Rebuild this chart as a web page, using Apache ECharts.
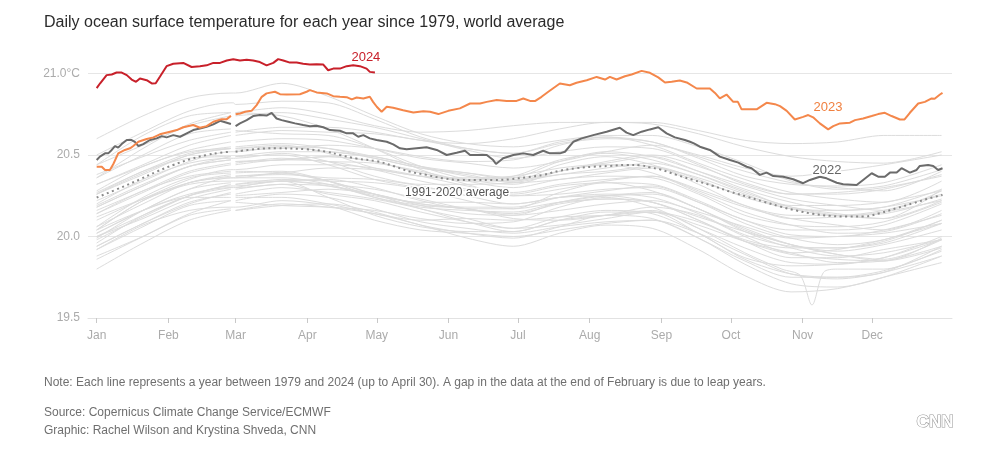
<!DOCTYPE html>
<html>
<head>
<meta charset="utf-8">
<script src="https://cdn.jsdelivr.net/npm/echarts@6/dist/echarts.min.js"></script>
<style>
html,body{margin:0;padding:0;background:#fff;}
#chart{width:1003px;height:466px;}
</style>
</head>
<body>
<div id="chart"></div>
<script>
// ---------------- DATA ----------------
const MONTH_DAYS = [0, 31, 60, 91, 121, 152, 182, 213, 244, 274, 305, 335];
const MONTH_LABELS = ['Jan','Feb','Mar','Apr','May','Jun','Jul','Aug','Sep','Oct','Nov','Dec'];

// day-of-year sample positions for the background years (59 = Feb 29)
const grayDays = [0,20,40,58,59,60,80,100,120,140,160,180,200,220,240,260,280,300,320,340,365];

const y1979 = [19.94,20.08,20.20,20.27,null,20.26,20.30,20.27,20.23,20.17,20.09,20.03,20.10,20.15,20.15,20.02,19.87,19.82,19.83,19.87,20.00];
const y1980 = [19.99,20.16,20.29,20.36,20.36,20.36,20.36,20.32,20.24,20.19,20.17,20.11,20.10,20.13,20.18,20.13,20.00,19.90,19.92,19.98,20.08];
const y1981 = [20.04,20.16,20.24,20.24,null,20.24,20.24,20.20,20.14,20.10,20.11,20.10,20.12,20.13,20.15,20.07,19.97,19.90,19.84,19.85,19.94];
const days1982 = [0,20,40,58,59,60,80,100,120,140,160,180,200,220,240,260,280,296,304,309,314,320,340,365];
const y1982 = [19.92,20.06,20.19,20.22,null,20.21,20.19,20.18,20.16,20.11,20.08,20.09,20.18,20.24,20.18,20.05,19.90,19.80,19.76,19.58,19.78,19.80,19.80,19.92];
const y1983 = [20.14,20.28,20.37,20.40,null,20.40,20.39,20.34,20.26,20.17,20.11,20.05,20.07,20.11,20.15,20.09,19.97,19.87,19.87,19.92,19.98];
const y1984 = [19.92,20.07,20.16,20.18,20.18,20.18,20.22,20.19,20.10,20.04,20.02,20.00,20.04,20.08,20.10,19.99,19.83,19.71,19.69,19.75,19.88];
const y1985 = [19.80,19.96,20.10,20.16,null,20.16,20.20,20.18,20.14,20.07,19.99,19.94,20.02,20.07,20.05,19.92,19.76,19.66,19.68,19.75,19.84];
const y1986 = [19.88,20.00,20.13,20.17,null,20.16,20.19,20.20,20.15,20.07,20.02,19.99,20.06,20.13,20.11,19.99,19.85,19.75,19.75,19.78,19.94];
const y1987 = [19.96,20.13,20.25,20.30,null,20.30,20.34,20.31,20.25,20.21,20.21,20.20,20.24,20.25,20.26,20.17,20.03,19.93,19.88,19.90,19.98];
const y1988 = [20.02,20.16,20.26,20.30,20.30,20.30,20.32,20.26,20.22,20.15,20.09,20.05,20.12,20.16,20.14,20.02,19.86,19.77,19.75,19.79,19.91];
const y1989 = [19.86,20.00,20.14,20.22,null,20.22,20.26,20.24,20.17,20.09,20.05,20.02,20.06,20.09,20.10,20.02,19.89,19.77,19.74,19.78,19.88];
const y1990 = [20.02,20.16,20.29,20.33,null,20.32,20.34,20.35,20.30,20.22,20.17,20.17,20.27,20.33,20.28,20.17,20.05,19.95,19.89,19.86,19.98];
const y1991 = [19.98,20.12,20.25,20.32,null,20.32,20.35,20.34,20.33,20.29,20.22,20.17,20.21,20.23,20.21,20.10,19.97,19.89,19.86,19.85,19.93];
const y1992 = [20.04,20.22,20.32,20.34,20.34,20.34,20.34,20.24,20.13,20.06,20.03,20.03,20.10,20.13,20.16,20.05,19.93,19.84,19.83,19.87,19.98];
const y1993 = [19.94,20.08,20.21,20.26,null,20.25,20.27,20.29,20.26,20.19,20.14,20.13,20.21,20.25,20.21,20.12,20.03,19.95,19.89,19.85,19.99];
const y1994 = [20.00,20.11,20.23,20.29,null,20.29,20.32,20.31,20.26,20.20,20.17,20.13,20.16,20.20,20.22,20.15,20.06,19.99,20.00,20.02,20.08];
const y1995 = [20.06,20.24,20.36,20.39,null,20.39,20.40,20.34,20.24,20.18,20.16,20.15,20.21,20.25,20.27,20.17,20.04,19.95,19.91,19.95,20.04];
const y1996 = [20.00,20.13,20.25,20.31,20.31,20.31,20.34,20.32,20.29,20.23,20.17,20.14,20.20,20.23,20.21,20.10,19.98,19.93,19.93,19.97,20.10];
const y1997 = [20.06,20.20,20.33,20.38,null,20.37,20.39,20.42,20.41,20.37,20.35,20.37,20.47,20.51,20.47,20.38,20.27,20.18,20.13,20.11,20.29];
const y1998 = [20.36,20.54,20.69,20.76,null,20.76,20.74,20.66,20.54,20.41,20.32,20.25,20.26,20.29,20.30,20.21,20.10,20.01,20.00,20.04,20.13];
const y1999 = [20.12,20.23,20.33,20.37,null,20.37,20.38,20.36,20.35,20.31,20.25,20.20,20.24,20.26,20.24,20.14,20.01,19.94,19.93,19.96,20.08];
const y2000 = [20.04,20.22,20.33,20.36,20.36,20.36,20.39,20.34,20.26,20.20,20.18,20.18,20.24,20.28,20.31,20.21,20.08,19.99,19.95,19.98,20.10];
const y2001 = [20.14,20.27,20.39,20.44,null,20.44,20.47,20.46,20.41,20.34,20.29,20.25,20.29,20.34,20.37,20.29,20.19,20.11,20.12,20.15,20.22];
const y2002 = [20.19,20.32,20.43,20.47,null,20.46,20.47,20.49,20.46,20.39,20.34,20.34,20.44,20.49,20.44,20.34,20.25,20.18,20.14,20.11,20.22];
const y2003 = [20.26,20.39,20.50,20.54,null,20.54,20.55,20.52,20.49,20.43,20.37,20.34,20.40,20.44,20.43,20.32,20.19,20.13,20.13,20.16,20.26];
const y2004 = [20.20,20.35,20.45,20.48,20.48,20.48,20.51,20.46,20.37,20.32,20.32,20.33,20.38,20.40,20.43,20.35,20.24,20.17,20.13,20.14,20.23];
const y2005 = [20.27,20.40,20.51,20.55,null,20.55,20.57,20.54,20.48,20.42,20.38,20.33,20.35,20.39,20.42,20.36,20.26,20.17,20.16,20.18,20.25];
const y2006 = [20.18,20.31,20.43,20.47,null,20.46,20.47,20.49,20.46,20.39,20.35,20.36,20.46,20.52,20.49,20.40,20.31,20.23,20.19,20.16,20.28];
const y2007 = [20.26,20.40,20.48,20.49,null,20.49,20.50,20.44,20.35,20.30,20.28,20.27,20.32,20.35,20.37,20.27,20.15,20.07,20.02,20.03,20.14];
const y2008 = [20.10,20.23,20.35,20.41,20.41,20.41,20.44,20.44,20.42,20.37,20.31,20.26,20.31,20.33,20.32,20.22,20.10,20.04,20.04,20.07,20.20];
const y2009 = [20.18,20.31,20.43,20.49,null,20.49,20.52,20.52,20.48,20.42,20.39,20.36,20.40,20.46,20.50,20.43,20.33,20.26,20.27,20.30,20.37];
const y2010 = [20.36,20.50,20.63,20.66,null,20.65,20.63,20.62,20.54,20.43,20.35,20.32,20.40,20.44,20.39,20.28,20.18,20.11,20.07,20.04,20.16];
const y2011 = [20.16,20.28,20.40,20.45,null,20.45,20.48,20.46,20.45,20.40,20.34,20.30,20.35,20.37,20.36,20.26,20.13,20.07,20.06,20.09,20.21];
const y2012 = [20.22,20.34,20.46,20.52,20.52,20.52,20.55,20.54,20.49,20.43,20.39,20.35,20.38,20.42,20.45,20.38,20.28,20.19,20.19,20.21,20.28];
const y2013 = [20.28,20.43,20.52,20.54,null,20.54,20.56,20.51,20.42,20.37,20.36,20.37,20.42,20.45,20.49,20.40,20.29,20.21,20.16,20.18,20.29];
const y2014 = [20.26,20.38,20.50,20.54,null,20.53,20.54,20.56,20.54,20.49,20.46,20.47,20.56,20.61,20.58,20.49,20.40,20.33,20.30,20.28,20.40];
const y2015 = [20.38,20.49,20.59,20.64,null,20.64,20.67,20.67,20.64,20.59,20.57,20.60,20.66,20.70,20.70,20.65,20.59,20.57,20.58,20.62,20.62];
const y2016 = [20.60,20.74,20.85,20.88,20.88,20.88,20.94,20.86,20.74,20.63,20.57,20.55,20.59,20.62,20.62,20.55,20.45,20.34,20.29,20.31,20.41];
const y2017 = [20.44,20.56,20.68,20.74,null,20.74,20.76,20.72,20.67,20.60,20.53,20.48,20.52,20.55,20.54,20.44,20.32,20.26,20.26,20.29,20.38];
const y2018 = [20.32,20.43,20.53,20.58,null,20.58,20.60,20.59,20.54,20.48,20.45,20.42,20.46,20.52,20.56,20.50,20.42,20.37,20.40,20.44,20.50];
const y2019 = [20.44,20.62,20.74,20.76,null,20.76,20.79,20.75,20.68,20.64,20.65,20.68,20.70,20.70,20.69,20.63,20.55,20.49,20.46,20.45,20.52];
const y2020 = [20.50,20.64,20.77,20.82,20.82,20.81,20.83,20.82,20.72,20.61,20.54,20.51,20.58,20.61,20.56,20.45,20.35,20.27,20.23,20.21,20.34];
const y2021 = [20.32,20.44,20.56,20.62,null,20.62,20.65,20.64,20.63,20.59,20.54,20.51,20.57,20.60,20.58,20.48,20.37,20.32,20.31,20.33,20.44];

// highlighted years: [day of year, °C]
const y2022 = [[0,20.469],[1.4,20.49],[3.6,20.51],[5,20.51],[6.5,20.531],[7.9,20.555],[9.3,20.545],[10.8,20.567],[13,20.592],[15.1,20.592],[16.5,20.581],[18,20.555],[20.1,20.567],[23,20.592],[25.9,20.602],[28.1,20.616],[30.2,20.608],[33.1,20.622],[36,20.612],[38.9,20.633],[41.7,20.653],[44.6,20.663],[47.5,20.673],[50.4,20.688],[53.3,20.71],[56.2,20.698],[58,20.69],[59,null],[60,20.677],[61.9,20.694],[64.8,20.714],[67.6,20.739],[70.5,20.745],[73.4,20.742],[75.6,20.759],[77.7,20.724],[79.9,20.714],[82.8,20.704],[85.7,20.694],[89.2,20.684],[92.1,20.677],[95,20.68],[97.9,20.67],[100.8,20.653],[105.1,20.649],[108,20.633],[110.8,20.633],[113,20.612],[115.2,20.622],[118,20.602],[120.9,20.592],[125.3,20.581],[128.1,20.565],[131,20.541],[133.9,20.535],[138.2,20.541],[142.5,20.547],[146.9,20.531],[151.2,20.5],[155.5,20.514],[159.1,20.526],[161.3,20.5],[168.5,20.5],[171.3,20.469],[172.5,20.445],[175.6,20.48],[180,20.5],[184.3,20.51],[188.6,20.5],[192.9,20.526],[195.8,20.51],[200.1,20.51],[202.3,20.52],[205.9,20.581],[209.5,20.602],[214.5,20.622],[220.3,20.643],[226,20.667],[228.9,20.637],[231.8,20.622],[235.4,20.643],[239,20.657],[242.6,20.67],[246.2,20.633],[249.8,20.608],[254.1,20.592],[256.3,20.581],[258,20.571],[260.6,20.551],[264.9,20.531],[269.2,20.49],[273.6,20.469],[277.2,20.453],[280.8,20.428],[282.9,20.419],[286.5,20.378],[289.4,20.392],[292.3,20.371],[296.6,20.367],[300.9,20.351],[305.2,20.327],[308.1,20.347],[312.4,20.367],[315.3,20.357],[319.7,20.33],[322.5,20.321],[328.3,20.316],[331.1,20.347],[334.8,20.388],[337.6,20.367],[340.5,20.367],[342.7,20.392],[345.6,20.392],[347.7,20.419],[351.3,20.392],[354.2,20.408],[355.6,20.433],[359.2,20.439],[361.4,20.433],[363.5,20.408],[365.4,20.419]];

const y2023 = [[0,20.428],[2.2,20.428],[3.6,20.408],[5.7,20.408],[7.2,20.445],[9.3,20.51],[12.2,20.531],[14.4,20.541],[15.8,20.555],[18,20.581],[21.6,20.598],[24.5,20.608],[27.3,20.627],[31.7,20.643],[34.6,20.653],[37.4,20.67],[41.7,20.684],[44.6,20.667],[47.5,20.677],[50.4,20.704],[54,20.72],[56.2,20.72],[58,20.74],[59,null],[60,20.75],[62,20.755],[64.1,20.765],[66.9,20.771],[69.1,20.806],[71.3,20.857],[73.4,20.878],[77,20.888],[79.2,20.873],[82.1,20.871],[87.8,20.873],[90.7,20.888],[92.1,20.898],[95,20.884],[99.4,20.878],[102.2,20.861],[105.1,20.857],[108,20.855],[110.2,20.841],[112.3,20.853],[115.2,20.847],[118,20.857],[119.4,20.826],[121,20.796],[123.1,20.765],[125.3,20.796],[128.1,20.79],[132.4,20.775],[136.8,20.761],[141.1,20.769],[144,20.765],[147.6,20.751],[151.9,20.771],[156.9,20.786],[161.3,20.816],[165.6,20.816],[168.5,20.826],[172.8,20.837],[177.1,20.832],[181.4,20.832],[184.3,20.847],[187.2,20.832],[189.5,20.832],[192.2,20.857],[195.1,20.888],[200.1,20.939],[204.4,20.928],[207.3,20.943],[211.7,20.959],[216,20.979],[219.6,20.963],[221.7,20.979],[224.6,20.963],[228.2,20.983],[231.1,20.994],[235.4,21.016],[239,21.004],[242.6,20.976],[245.5,20.945],[248.4,20.949],[251.9,20.957],[254.9,20.945],[259.2,20.908],[264.9,20.908],[267.1,20.881],[269.2,20.847],[272.1,20.871],[275,20.826],[277,20.826],[278.6,20.78],[285.1,20.78],[289.4,20.82],[293,20.812],[295.2,20.8],[298.1,20.771],[301.6,20.718],[305.2,20.734],[307.4,20.745],[309.5,20.731],[312.4,20.694],[316,20.657],[318.2,20.677],[321.1,20.694],[325.4,20.698],[327.6,20.714],[331.1,20.724],[334.8,20.739],[337.6,20.751],[340.5,20.759],[343.4,20.739],[347,20.718],[349,20.718],[351.3,20.759],[354.9,20.816],[357.8,20.826],[360.7,20.847],[362,20.845],[364.3,20.871],[365.4,20.881]];

const y2024 = [[0,20.91],[1.5,20.94],[4.3,20.99],[6.5,20.994],[8.6,21.006],[10.8,21.006],[13,20.99],[15.1,20.963],[17,20.949],[18.7,20.969],[21.6,20.959],[23.8,20.939],[25.5,20.94],[27.3,20.98],[30.2,21.045],[33.1,21.06],[37.4,21.065],[41,21.04],[44.6,21.045],[47.5,21.05],[50.4,21.065],[53.3,21.065],[56.2,21.08],[59,21.088],[61.9,21.08],[64.8,21.085],[67.6,21.08],[70.5,21.07],[73.4,21.05],[76.3,21.065],[78.4,21.088],[80.6,21.08],[83.5,21.067],[86.4,21.067],[89.2,21.06],[92.1,21.055],[95,21.057],[97.9,21.055],[100,21.02],[102.2,21.03],[105.1,21.03],[108,21.045],[110.8,21.05],[113.7,21.045],[116.6,21.03],[118,21.01],[120.2,21.006]];

// 1991-2020 average
const avg9120 = [[0,20.239],[11.5,20.306],[18.7,20.351],[25.9,20.398],[33.1,20.439],[40.3,20.474],[47.5,20.5],[53.3,20.514],[58,20.52],[59,null],[60,20.52],[69.1,20.537],[77.5,20.541],[90.7,20.535],[99.4,20.52],[105.1,20.5],[112.3,20.478],[120.9,20.462],[128.1,20.433],[135.3,20.398],[142.5,20.378],[149.7,20.357],[156.9,20.347],[164,20.347],[171.3,20.347],[178.5,20.351],[185.8,20.364],[192.9,20.378],[200.1,20.404],[207.3,20.419],[214.5,20.428],[221.7,20.433],[228.9,20.439],[235,20.437],[239,20.424],[243.3,20.412],[250.5,20.378],[257.7,20.347],[266.4,20.31],[273.6,20.275],[280.8,20.245],[288,20.214],[295.2,20.184],[302.4,20.159],[309.5,20.139],[316.7,20.127],[323.9,20.122],[331.1,20.122],[338.3,20.143],[345.6,20.174],[352.7,20.204],[359.9,20.235],[365.4,20.255]];

// label anchors in data space [day, °C]
const LABEL_2024 = [116.3, 21.10];
const LABEL_2023 = [315.9, 20.789];
const LABEL_2022 = [315.5, 20.408];
const LABEL_AVG = [155.7, 20.27];

// ---------------- CHART ----------------
const FONT = '"Liberation Sans", Arial, Helvetica, sans-serif';
const grayList = [
  [1979,grayDays,y1979],[1980,grayDays,y1980],[1981,grayDays,y1981],[1982,days1982,y1982],
  [1983,grayDays,y1983],[1984,grayDays,y1984],[1985,grayDays,y1985],[1986,grayDays,y1986],
  [1987,grayDays,y1987],[1988,grayDays,y1988],[1989,grayDays,y1989],[1990,grayDays,y1990],
  [1991,grayDays,y1991],[1992,grayDays,y1992],[1993,grayDays,y1993],[1994,grayDays,y1994],
  [1995,grayDays,y1995],[1996,grayDays,y1996],[1997,grayDays,y1997],[1998,grayDays,y1998],
  [1999,grayDays,y1999],[2000,grayDays,y2000],[2001,grayDays,y2001],[2002,grayDays,y2002],
  [2003,grayDays,y2003],[2004,grayDays,y2004],[2005,grayDays,y2005],[2006,grayDays,y2006],
  [2007,grayDays,y2007],[2008,grayDays,y2008],[2009,grayDays,y2009],[2010,grayDays,y2010],
  [2011,grayDays,y2011],[2012,grayDays,y2012],[2013,grayDays,y2013],[2014,grayDays,y2014],
  [2015,grayDays,y2015],[2016,grayDays,y2016],[2017,grayDays,y2017],[2018,grayDays,y2018],
  [2019,grayDays,y2019],[2020,grayDays,y2020],[2021,grayDays,y2021]
];
const fix = arr => arr.map(p => [p[0], p[1] === null ? '-' : p[1]]);

function labelPoint(coord, text, color, size) {
  return {
    symbol: 'circle', symbolSize: 1, silent: true,
    itemStyle: { color: 'rgba(0,0,0,0)' },
    data: [{ coord: coord, label: { show: true, position: 'inside', formatter: text, color: color,
      fontSize: size || 13, fontFamily: FONT, textBorderColor: '#fff', textBorderWidth: 3 } }]
  };
}

const series = [];
grayList.forEach(([yr, days, vals]) => {
  series.push({
    name: String(yr), type: 'line', symbol: 'none', silent: true, smooth: 0.3,
    lineStyle: { color: '#dcdcdc', width: 1 },
    data: days.map((d, i) => [d, vals[i] === null ? '-' : vals[i]]),
    z: 1
  });
});
series.push({
  name: '1991-2020 average', type: 'line', symbol: 'none', silent: true, smooth: 0.4,
  lineStyle: { color: '#8a8a8a', width: 2, type: [2, 3.5] },
  data: fix(avg9120), z: 3,
  markPoint: labelPoint(LABEL_AVG, '1991-2020 average', '#555', 12)
});
series.push({
  name: '2022', type: 'line', symbol: 'none', silent: true,
  lineStyle: { color: '#6b6b6b', width: 2 }, data: fix(y2022), z: 4,
  markPoint: labelPoint(LABEL_2022, '2022', '#666')
});
series.push({
  name: '2023', type: 'line', symbol: 'none', silent: true,
  lineStyle: { color: '#f4874b', width: 2 }, data: fix(y2023), z: 5,
  markPoint: labelPoint(LABEL_2023, '2023', '#f08040')
});
series.push({
  name: '2024', type: 'line', symbol: 'none', silent: true,
  lineStyle: { color: '#c8202a', width: 2 }, data: fix(y2024), z: 6,
  markPoint: labelPoint(LABEL_2024, '2024', '#c8202a')
});

const chart = echarts.init(document.getElementById('chart'), null, { renderer: 'canvas' });
chart.setOption({
  animation: false,
  backgroundColor: '#fff',
  textStyle: { fontFamily: FONT },
  title: {
    text: 'Daily ocean surface temperature for each year since 1979, world average',
    left: 39, top: 10,
    textStyle: { fontSize: 16, fontWeight: 'normal', color: '#2b2b2b', fontFamily: FONT }
  },
  grid: { left: 88, right: 51, top: -8, bottom: 148, outerBoundsMode: 'none', containLabel: false },
  xAxis: {
    type: 'value', min: -3.75, max: 369.5,
    splitLine: { show: false },
    axisLine: { show: true, lineStyle: { color: '#e2e2e2', width: 1 } },
    axisTick: { show: true, customValues: MONTH_DAYS, length: 5, lineStyle: { color: '#c8c8c8' } },
    axisLabel: {
      customValues: MONTH_DAYS,
      formatter: v => MONTH_LABELS[MONTH_DAYS.indexOf(v)] || '',
      color: '#ababab', fontSize: 12, margin: 12, fontFamily: FONT
    }
  },
  yAxis: {
    type: 'value', min: 19.5, max: 21.5, interval: 0.5,
    axisLine: { show: false }, axisTick: { show: false },
    splitLine: { lineStyle: { color: '#e6e6e6', width: 1 } },
    axisLabel: {
      formatter: v => (v > 21.2 ? '' : (Math.abs(v - 21) < 1e-6 ? '21.0°C' : v.toFixed(1))),
      color: '#ababab', fontSize: 12, margin: 8, fontFamily: FONT
    }
  },
  series: series,
  graphic: [
    { type: 'text', left: 44, top: 377, style: { text: 'Note: Each line represents a year between 1979 and 2024 (up to April 30). A gap in the data at the end of February is due to leap years.', fill: '#6f6f6f', font: '12px ' + FONT } },
    { type: 'text', left: 44, top: 407, style: { text: 'Source: Copernicus Climate Change Service/ECMWF', fill: '#6f6f6f', font: '12px ' + FONT } },
    { type: 'text', left: 44, top: 425, style: { text: 'Graphic: Rachel Wilson and Krystina Shveda, CNN', fill: '#6f6f6f', font: '12px ' + FONT } },
    { type: 'text', left: 916, top: 413, style: { text: 'CNN', fill: '#fff', stroke: '#9a9a9a', lineWidth: 1.2, font: 'bold 17px ' + FONT } }
  ]
});
</script>
</body>
</html>
